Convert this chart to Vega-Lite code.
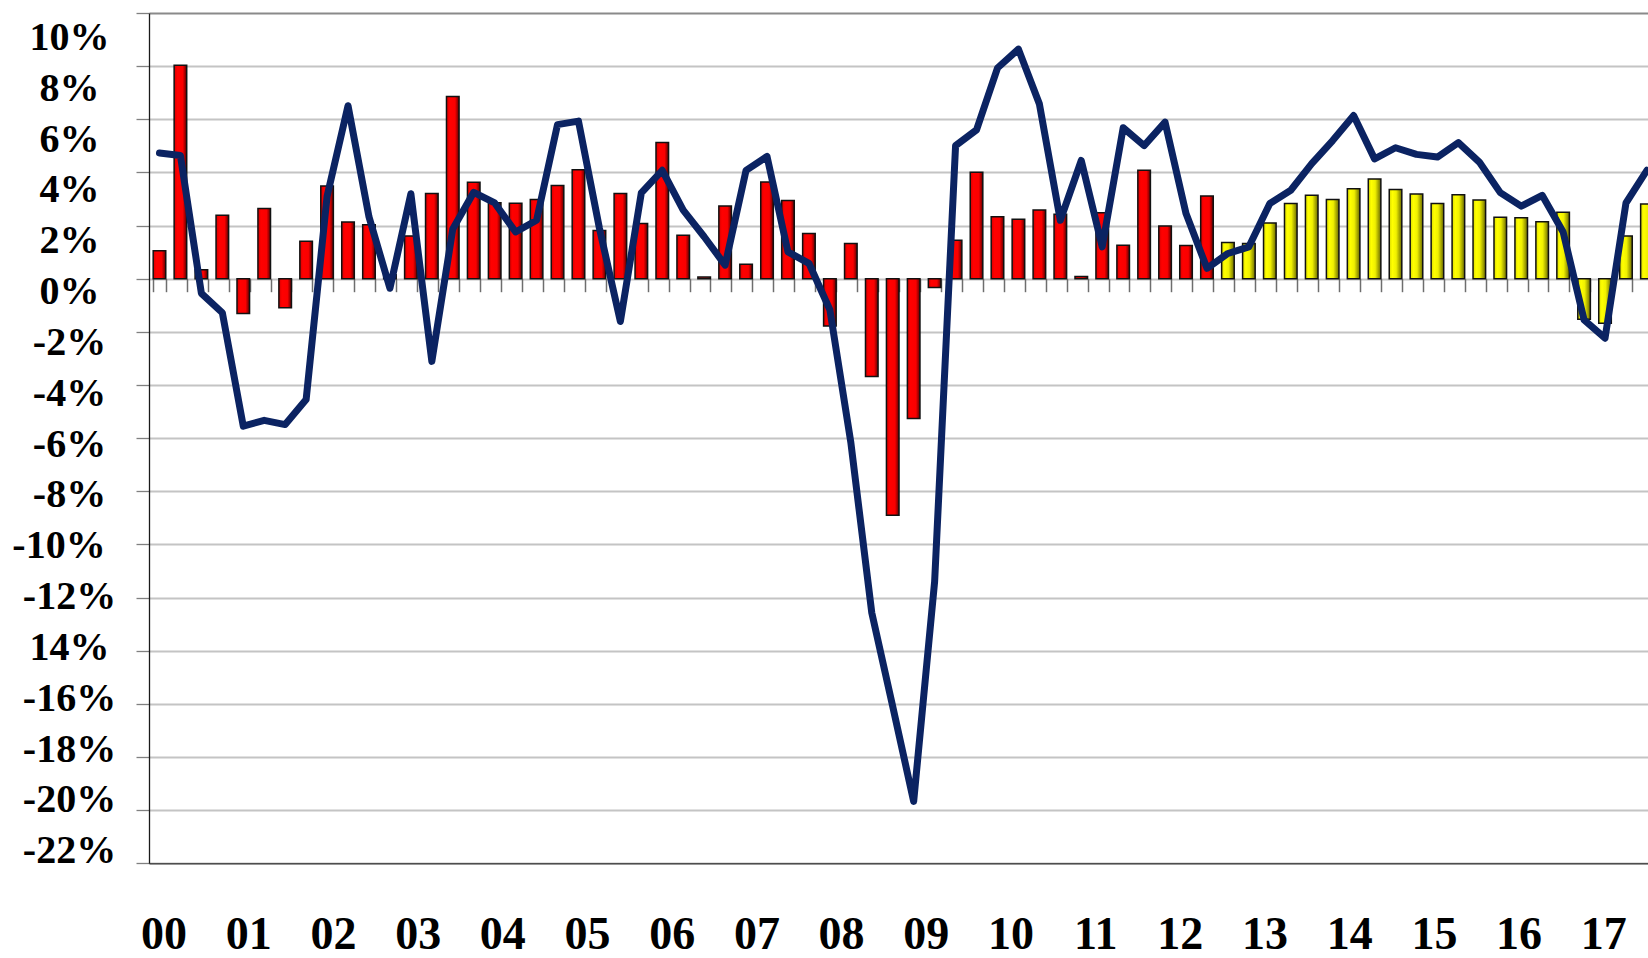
{
  "$schema": "https://vega.github.io/schema/vega-lite/v6.json",
  "autosize": {"type": "none"},
  "padding": {"left": 149, "top": 13, "right": 0, "bottom": 94.7},
  "width": 1499,
  "height": 850.3,
  "background": "white",
  "view": {"stroke": null},
  "config": {"font": "Liberation Serif"},
  "data": {"values": [
    {"q": "2000Q1", "b": 1.05, "l": 4.73, "t": "a"},
    {"q": "2000Q2", "b": 8.03, "l": 4.64, "t": "a"},
    {"q": "2000Q3", "b": 0.34, "l": -0.55, "t": "a"},
    {"q": "2000Q4", "b": 2.39, "l": -1.28, "t": "a"},
    {"q": "2001Q1", "b": -1.31, "l": -5.55, "t": "a"},
    {"q": "2001Q2", "b": 2.64, "l": -5.33, "t": "a"},
    {"q": "2001Q3", "b": -1.09, "l": -5.49, "t": "a"},
    {"q": "2001Q4", "b": 1.41, "l": -4.55, "t": "a"},
    {"q": "2002Q1", "b": 3.49, "l": 3.1, "t": "a"},
    {"q": "2002Q2", "b": 2.13, "l": 6.51, "t": "a"},
    {"q": "2002Q3", "b": 2.03, "l": 2.33, "t": "a"},
    {"q": "2002Q4", "b": 0.15, "l": -0.36, "t": "a"},
    {"q": "2003Q1", "b": 1.61, "l": 3.2, "t": "a"},
    {"q": "2003Q2", "b": 3.21, "l": -3.11, "t": "a"},
    {"q": "2003Q3", "b": 6.86, "l": 1.87, "t": "a"},
    {"q": "2003Q4", "b": 3.63, "l": 3.25, "t": "a"},
    {"q": "2004Q1", "b": 2.86, "l": 2.85, "t": "a"},
    {"q": "2004Q2", "b": 2.84, "l": 1.76, "t": "a"},
    {"q": "2004Q3", "b": 2.98, "l": 2.2, "t": "a"},
    {"q": "2004Q4", "b": 3.51, "l": 5.8, "t": "a"},
    {"q": "2005Q1", "b": 4.1, "l": 5.93, "t": "a"},
    {"q": "2005Q2", "b": 1.81, "l": 1.9, "t": "a"},
    {"q": "2005Q3", "b": 3.21, "l": -1.61, "t": "a"},
    {"q": "2005Q4", "b": 2.08, "l": 3.23, "t": "a"},
    {"q": "2006Q1", "b": 5.13, "l": 4.08, "t": "a"},
    {"q": "2006Q2", "b": 1.64, "l": 2.58, "t": "a"},
    {"q": "2006Q3", "b": 0.06, "l": 1.58, "t": "a"},
    {"q": "2006Q4", "b": 2.74, "l": 0.51, "t": "a"},
    {"q": "2007Q1", "b": 0.54, "l": 4.08, "t": "a"},
    {"q": "2007Q2", "b": 3.64, "l": 4.6, "t": "a"},
    {"q": "2007Q3", "b": 2.94, "l": 1.01, "t": "a"},
    {"q": "2007Q4", "b": 1.7, "l": 0.58, "t": "a"},
    {"q": "2008Q1", "b": -1.78, "l": -1.17, "t": "a"},
    {"q": "2008Q2", "b": 1.33, "l": -6.16, "t": "a"},
    {"q": "2008Q3", "b": -3.68, "l": -12.57, "t": "a"},
    {"q": "2008Q4", "b": -8.9, "l": -16.1, "t": "a"},
    {"q": "2009Q1", "b": -5.26, "l": -19.67, "t": "a"},
    {"q": "2009Q2", "b": -0.33, "l": -11.4, "t": "a"},
    {"q": "2009Q3", "b": 1.45, "l": 5.01, "t": "a"},
    {"q": "2009Q4", "b": 4.01, "l": 5.6, "t": "a"},
    {"q": "2010Q1", "b": 2.33, "l": 7.93, "t": "a"},
    {"q": "2010Q2", "b": 2.24, "l": 8.64, "t": "a"},
    {"q": "2010Q3", "b": 2.59, "l": 6.58, "t": "a"},
    {"q": "2010Q4", "b": 2.43, "l": 2.2, "t": "a"},
    {"q": "2011Q1", "b": 0.08, "l": 4.45, "t": "a"},
    {"q": "2011Q2", "b": 2.48, "l": 1.2, "t": "a"},
    {"q": "2011Q3", "b": 1.26, "l": 5.68, "t": "a"},
    {"q": "2011Q4", "b": 4.08, "l": 5.01, "t": "a"},
    {"q": "2012Q1", "b": 1.98, "l": 5.89, "t": "a"},
    {"q": "2012Q2", "b": 1.25, "l": 2.45, "t": "a"},
    {"q": "2012Q3", "b": 3.11, "l": 0.39, "t": "a"},
    {"q": "2012Q4", "b": 1.36, "l": 0.95, "t": "f"},
    {"q": "2013Q1", "b": 1.33, "l": 1.2, "t": "f"},
    {"q": "2013Q2", "b": 2.1, "l": 2.83, "t": "f"},
    {"q": "2013Q3", "b": 2.83, "l": 3.33, "t": "f"},
    {"q": "2013Q4", "b": 3.14, "l": 4.33, "t": "f"},
    {"q": "2014Q1", "b": 2.98, "l": 5.2, "t": "f"},
    {"q": "2014Q2", "b": 3.39, "l": 6.14, "t": "f"},
    {"q": "2014Q3", "b": 3.75, "l": 4.51, "t": "f"},
    {"q": "2014Q4", "b": 3.36, "l": 4.93, "t": "f"},
    {"q": "2015Q1", "b": 3.19, "l": 4.68, "t": "f"},
    {"q": "2015Q2", "b": 2.83, "l": 4.58, "t": "f"},
    {"q": "2015Q3", "b": 3.16, "l": 5.12, "t": "f"},
    {"q": "2015Q4", "b": 2.96, "l": 4.39, "t": "f"},
    {"q": "2016Q1", "b": 2.31, "l": 3.24, "t": "f"},
    {"q": "2016Q2", "b": 2.29, "l": 2.73, "t": "f"},
    {"q": "2016Q3", "b": 2.14, "l": 3.14, "t": "f"},
    {"q": "2016Q4", "b": 2.5, "l": 1.76, "t": "f"},
    {"q": "2017Q1", "b": -1.53, "l": -1.55, "t": "f"},
    {"q": "2017Q2", "b": -1.68, "l": -2.24, "t": "f"},
    {"q": "2017Q3", "b": 1.61, "l": 2.85, "t": "f"},
    {"q": "2017Q4", "b": 2.81, "l": 4.08, "t": "f"}
  ]},
  "layer": [
    {
      "transform": [{"filter": "datum.t === 'a'"}],
      "mark": {
        "type": "bar",
        "color": {"gradient": "linear", "x1": 0, "y1": 0, "x2": 1, "y2": 0,
          "stops": [
            {"offset": 0, "color": "#d40000"},
            {"offset": 0.25, "color": "#ff0000"},
            {"offset": 0.68, "color": "#fa0000"},
            {"offset": 1, "color": "#5e0000"}
          ]},
        "stroke": "#111111",
        "strokeWidth": 1.5
      },
      "encoding": {
        "x": {
          "field": "q", "type": "ordinal",
          "scale": {"type": "band", "range": [0, 1508.4], "paddingInner": 0.4, "paddingOuter": 0.2},
          "axis": {
            "orient": "bottom", "title": null, "grid": false,
            "ticks": false, "tickSize": 0,
            "domain": true, "domainColor": "#4d4d4d", "domainWidth": 1.5,
            "labelExpr": "slice(datum.value, 4) === 'Q1' ? slice(datum.value, 2, 4) : ''",
            "labelFont": "Liberation Serif", "labelFontWeight": "bold", "labelFontSize": 46,
            "labelColor": "#000000", "labelAngle": 0, "labelAlign": "center", "labelBaseline": "middle",
            "labelPadding": 70.7, "labelOverlap": false, "labelBound": false,
            "labelOffset": {"expr": "4.6 + 0.89 * (toNumber(slice(datum.value, 0, 4)) - 2000)"}
          }
        },
        "y": {
          "field": "b", "type": "quantitative",
          "scale": {"domain": [-22, 10], "nice": false, "zero": false},
          "axis": {
            "title": null, "orient": "left",
            "values": [10, 8, 6, 4, 2, 0, -2, -4, -6, -8, -10, -12, -14, -16, -18, -20, -22],
            "grid": true,
            "gridColor": {"condition": {"test": "datum.value === 10", "value": "#8a8a8a"}, "value": "#c4c4c4"},
            "gridWidth": 2,
            "domain": true, "domainColor": "#1a1a1a", "domainWidth": 1.3,
            "ticks": true, "tickSize": 13, "tickColor": "#808080", "tickWidth": 1.3,
            "labelFont": "Liberation Serif", "labelFontWeight": "bold", "labelFontSize": 40,
            "labelColor": "#000000", "labelAlign": "center", "labelBaseline": "middle",
            "labelOverlap": false,
            "labelExpr": "datum.value === -14 ? '14%' : datum.value + '%'",
            "labelOffset": {"expr": "24.5 - (10 - datum.value) * 1.16"},
            "labelPadding": {"expr": "datum.value === -10 ? 77.5 : 67"}
          }
        }
      }
    },
    {
      "transform": [{"filter": "datum.t === 'f'"}],
      "mark": {
        "type": "bar",
        "color": {"gradient": "linear", "x1": 0, "y1": 0, "x2": 1, "y2": 0,
          "stops": [
            {"offset": 0, "color": "#dada00"},
            {"offset": 0.25, "color": "#ffff00"},
            {"offset": 0.55, "color": "#f0f000"},
            {"offset": 1, "color": "#6a6a00"}
          ]},
        "stroke": "#111111",
        "strokeWidth": 1.5
      },
      "encoding": {
        "x": {
          "field": "q", "type": "ordinal",
          "scale": {"type": "band", "range": [0, 1508.4], "paddingInner": 0.4, "paddingOuter": 0.2},
          "axis": null
        },
        "y": {
          "field": "b", "type": "quantitative",
          "scale": {"domain": [-22, 10], "nice": false, "zero": false},
          "axis": null
        }
      }
    },
    {
      "mark": {"type": "line", "color": "#0b2362", "strokeWidth": 7, "strokeJoin": "round", "strokeCap": "round"},
      "encoding": {
        "x": {
          "field": "q", "type": "ordinal",
          "scale": {"type": "band", "range": [0, 1508.4], "paddingInner": 0.4, "paddingOuter": 0.2},
          "axis": {
            "orient": "bottom", "title": null, "grid": false, "labels": false, "domain": false,
            "ticks": true, "tickBand": "extent", "tickSize": 13, "tickColor": "#6e6e6e", "tickWidth": 1.5,
            "offset": -584.6
          }
        },
        "y": {
          "field": "l", "type": "quantitative",
          "scale": {"domain": [-22, 10], "nice": false, "zero": false},
          "axis": null
        }
      }
    }
  ],
  "resolve": {"axis": {"x": "independent", "y": "independent"}}
}
